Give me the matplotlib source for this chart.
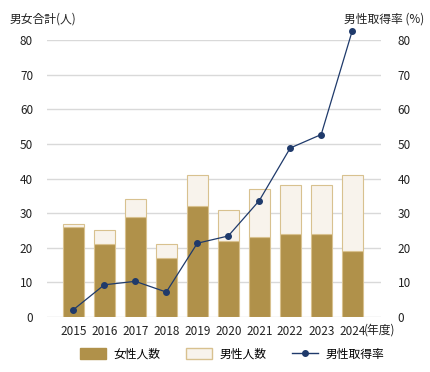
import matplotlib
matplotlib.use("Agg")
import matplotlib.pyplot as plt
from matplotlib.patches import Patch
from matplotlib.lines import Line2D

plt.rcParams['font.family'] = ['Noto Sans CJK JP', 'DejaVu Sans']

years = ["2015", "2016", "2017", "2018", "2019", "2020", "2021", "2022", "2023", "2024"]
female = [26, 21, 29, 17, 32, 22, 23, 24, 24, 19]
male = [1, 4, 5, 4, 9, 9, 14, 14, 14, 22]
male_rate = [2.1, 9.3, 10.3, 7.2, 21.3, 23.4, 33.6, 48.8, 52.7, 82.6]
yticks = [0, 10, 20, 30, 40, 50, 60, 70, 80]

c_female = "#b0914a"
c_male = "#f8f3ec"
c_male_edge = "#d8c18f"
c_line = "#1f3a6b"
c_grid = "#d9d9d9"

fig = plt.figure(figsize=(4.3, 3.72), dpi=100)
ax = fig.add_axes([47/430, 1-317/372, (381-47)/430, 277/372])
x = list(range(len(years)))

ax.bar(x, female, width=0.68, color=c_female, edgecolor=c_male_edge, linewidth=0.8, zorder=2)
ax.bar(x, male, bottom=female, width=0.68, color=c_male, edgecolor=c_male_edge, linewidth=0.8, zorder=2)

ax.set_xlim(-0.85, 9.93)
ax.set_ylim(0, 80)
ax.set_yticks(yticks)
ax.grid(axis='y', color=c_grid, linewidth=1, zorder=0)
ax.set_axisbelow(True)
for s in ax.spines.values():
    s.set_visible(False)
ax.tick_params(axis='both', length=0, labelsize=8.5, colors="#222222")
ax.tick_params(axis='y', pad=10)
ax.set_xticks(x)
ax.set_xticklabels(years)
ax.tick_params(axis='x', pad=6)

ax2 = ax.twinx()
ax2.set_ylim(0, 80)
ax2.set_yticks(yticks)
for s in ax2.spines.values():
    s.set_visible(False)
ax2.tick_params(axis='y', length=0, labelsize=8.5, colors="#222222", pad=12)
ax2.plot(x, male_rate, color=c_line, linewidth=0.9, marker='o', markersize=4, clip_on=False, zorder=5)

fig.text(10/430, 1-19/372, "男女合計(人)", fontsize=8.5, va='center', ha='left', color="#222222")
fig.text(424/430, 1-19/372, "男性取得率 (%)", fontsize=8.5, va='center', ha='right', color="#222222")
fig.text(364/430, 1-330/372, "(年度)", fontsize=8.5, va='center', ha='left', color="#222222")

handles = [Patch(facecolor=c_female, edgecolor=c_female),
           Patch(facecolor=c_male, edgecolor=c_male_edge),
           Line2D([0], [0], color=c_line, marker='o', markersize=4, linewidth=1)]
labels = ["女性人数", "男性人数", "男性取得率"]
fig.legend(handles, labels, loc='center', bbox_to_anchor=(232/430, 1-354/372), ncol=3,
           frameon=False, fontsize=8.5, handlelength=2.2, handleheight=1.1,
           columnspacing=2.2, handletextpad=0.6)

fig.savefig("out.png", dpi=100)
